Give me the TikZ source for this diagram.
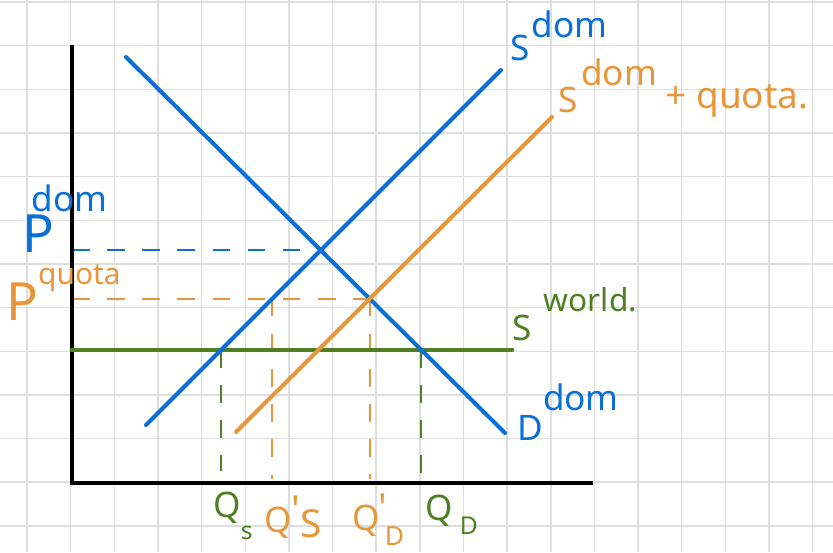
\documentclass[tikz,border=0pt]{standalone}
\usepackage{fontspec}
\setmainfont{Noto Sans}
\definecolor{domblue}{HTML}{0A6FD6}
\definecolor{quotaorange}{HTML}{E8963A}
\definecolor{worldgreen}{HTML}{4F7F23}
\newcommand{\supx}[3]{\raisebox{#1}{\hspace{#2}#3}}
\begin{document}
\begin{tikzpicture}[x=0.02cm,y=-0.02cm,
  gridline/.style={black!13,line width=0.8pt},
  curve/.style={line width=2.3pt,line cap=round},
  guide/.style={line width=1.1pt,dash pattern=on 10pt off 10pt},
  lbl/.style={inner sep=0pt,anchor=base west,font=\fontsize{20}{24}\selectfont},
  big/.style={lbl,font=\fontsize{30}{34}\selectfont}]
\useasboundingbox (0,0) rectangle (833,552);
\fill[white] (0,0) rectangle (833,552);
\foreach \k in {0,...,18} \draw[gridline] ({27+43.65*\k},0) -- ({27+43.65*\k},552);
\foreach \k in {0,...,12} \draw[gridline] (0,{2+43.65*\k}) -- (833,{2+43.65*\k});
\coordinate (O) at (72,483);
\coordinate (ytop) at (72,45);
\coordinate (xend) at (593,483);
\coordinate (dA) at (126,57);
\coordinate (dB) at (505,433);
\coordinate (sA) at (146,425);
\coordinate (sB) at (501,70);
\coordinate (qA) at (236,432);
\coordinate (qB) at (552,117);
\coordinate (wA) at (72,350);
\coordinate (wB) at (512,350);
\coordinate (Edom) at (intersection of dA--dB and sA--sB);
\coordinate (Equota) at (intersection of dA--dB and qA--qB);
\coordinate (Pdom) at (Edom -| O);
\coordinate (Pquota) at (Equota -| O);
\coordinate (Squota) at (intersection of sA--sB and Pquota--Equota);
\coordinate (Sworld) at (intersection of sA--sB and wA--wB);
\coordinate (Dworld) at (intersection of dA--dB and wA--wB);
\draw[guide,domblue] (Pdom) -- (Edom);
\draw[guide,quotaorange] (Pquota) -- (Equota);
\draw[guide,quotaorange,shorten >=2pt] (Squota) -- (Squota |- O);
\draw[guide,quotaorange,shorten >=2pt] (Equota) -- (Equota |- O);
\draw[guide,worldgreen,shorten >=7pt] (Sworld) -- (Sworld |- O);
\draw[guide,worldgreen,shorten >=3pt] (Dworld) -- (Dworld |- O);
\draw[line width=2.6pt] (ytop) -- (O) -- (xend);
\draw[curve,worldgreen,line width=2.7pt] (wA) -- (wB);
\draw[curve,domblue] (dA) -- (dB);
\draw[curve,domblue] (sA) -- (sB);
\draw[curve,quotaorange] (qA) -- (qB);
\node[lbl,domblue] (sdom) at (510,60) {S\supx{13pt}{1pt}{dom}};
\node[lbl,quotaorange] (squota) at (558,112)
  {S\supx{15pt}{2pt}{dom}\supx{2pt}{5pt}{\fontsize{21}{24}\selectfont + quota.}};
\node[big,domblue] (pdom) at (22,252) {P\supx{23pt}{-13pt}{\fontsize{20}{24}\selectfont dom}};
\node[big,quotaorange] (pquota) at (6,320) {P\supx{20pt}{0pt}{\fontsize{17}{20}\selectfont quota}};
\node[lbl,worldgreen] (sworld) at (512,340) {S\supx{16pt}{7pt}{\fontsize{18}{20}\selectfont world.}};
\node[lbl,domblue] (ddom) at (517,440) {D\supx{17pt}{0pt}{dom}};
\node[lbl,worldgreen] (qs) at (213,517) {Q\supx{-13pt}{0pt}{\fontsize{14}{16}\selectfont s}};
\node[lbl,quotaorange] (qsq) at (264,532)
  {Q\supx{5pt}{0pt}{\fontsize{22}{24}\selectfont\textquotesingle}\supx{-3pt}{0pt}{\fontsize{22}{24}\selectfont S}};
\node[lbl,quotaorange] (qdq) at (352,530)
  {Q\supx{5pt}{-1pt}{\fontsize{22}{24}\selectfont\textquotesingle}\supx{-9pt}{-1pt}{\fontsize{15}{18}\selectfont D}};
\node[lbl,worldgreen] (qd) at (425,520) {Q\supx{-8.5pt}{4pt}{\fontsize{14}{16}\selectfont D}};
\end{tikzpicture}
\end{document}
